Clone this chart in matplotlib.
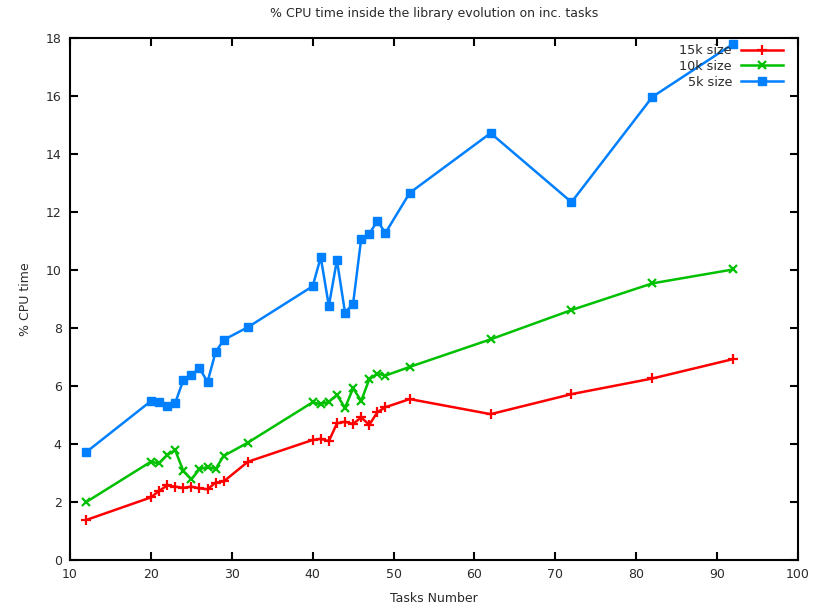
import numpy as np
import matplotlib
matplotlib.use("Agg")
import matplotlib.pyplot as plt

tasks = [12, 20, 21, 22, 23, 24, 25, 26, 27, 28, 29, 32,
         40, 41, 42, 43, 44, 45, 46, 47, 48, 49, 52, 62, 72, 82, 92]

cpu_15k = [1.38, 2.16, 2.38, 2.57, 2.53, 2.49, 2.53, 2.47, 2.44, 2.67, 2.71, 3.39,
           4.14, 4.18, 4.10, 4.71, 4.77, 4.69, 4.92, 4.66, 5.10, 5.27, 5.55, 5.03, 5.72, 6.26, 6.93]
cpu_10k = [2.00, 3.39, 3.33, 3.62, 3.79, 3.08, 2.78, 3.13, 3.21, 3.14, 3.59, 4.05,
           5.44, 5.37, 5.46, 5.69, 5.25, 5.92, 5.49, 6.23, 6.43, 6.36, 6.66, 7.61, 8.62, 9.54, 10.02]
cpu_5k = [3.72, 5.48, 5.45, 5.31, 5.41, 6.20, 6.38, 6.62, 6.14, 7.17, 7.59, 8.03,
          9.44, 10.44, 8.76, 10.34, 8.53, 8.84, 11.08, 11.25, 11.69, 11.28, 12.66, 14.72, 12.34, 15.97, 17.8]

txt = '#2a2a2a'
plt.rcParams['font.family'] = 'DejaVu Sans'
plt.rcParams['font.size'] = 9

fig = plt.figure(figsize=(8.15, 6.08), dpi=100)
ax = fig.add_axes([0.0859, 0.0789, 0.8932, 0.8586])

ax.plot(tasks, cpu_15k, color='#ff0000', lw=1.8, marker='+', ms=6.5, mew=1.6, label='15k size')
ax.plot(tasks, cpu_10k, color='#00c000', lw=1.8, marker='x', ms=5.5, mew=1.6, label='10k size')
ax.plot(tasks, cpu_5k, color='#0080ff', lw=1.8, marker='s', ms=5.5, label='5k size')

ax.set_xlim(10, 100)
ax.set_ylim(0, 18)
ax.set_xticks(np.arange(10, 101, 10))
ax.set_yticks(np.arange(0, 19, 2))
ax.tick_params(direction='in', top=True, right=True, length=6, width=1.5,
               labelcolor=txt, labelsize=9, pad=6)
for s in ax.spines.values():
    s.set_linewidth(1.5)

ax.set_title('% CPU time inside the library evolution on inc. tasks', color=txt, fontsize=9, pad=15)
ax.set_xlabel('Tasks Number', color=txt, fontsize=9, labelpad=8)
ax.set_ylabel('% CPU time', color=txt, fontsize=9, labelpad=10)

leg = ax.legend(loc='upper right', bbox_to_anchor=(0.99, 1.003), frameon=False, markerfirst=False,
                fontsize=9.2, handlelength=3.3, labelspacing=0.22, handletextpad=0.7, borderaxespad=0.2)
for t in leg.get_texts():
    t.set_color(txt)

fig.savefig('out.png', dpi=100)
